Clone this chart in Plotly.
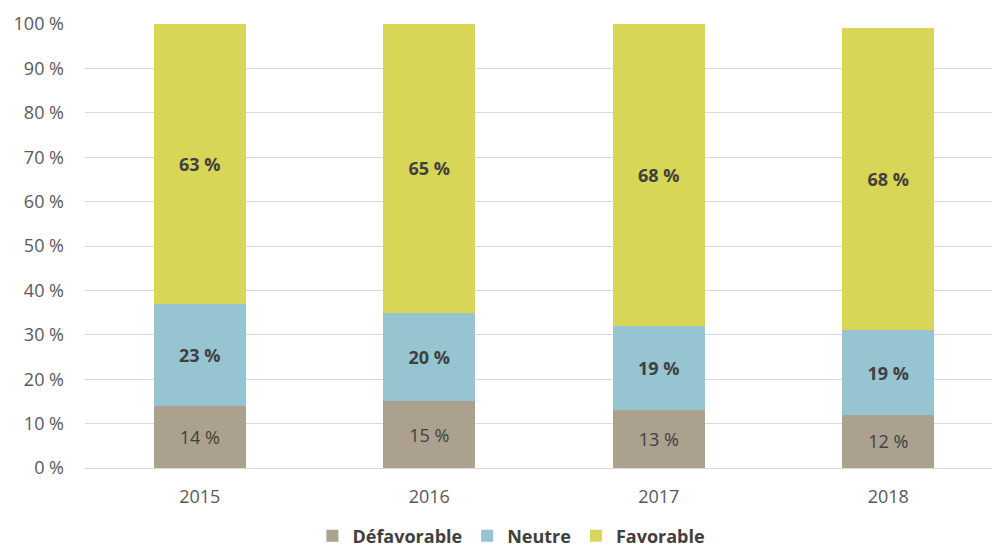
import plotly.graph_objects as go

# survey answers per year, percentages
years = ['2015', '2016', '2017', '2018']
defavorable = [14, 15, 13, 12]
neutre = [23, 20, 19, 19]
favorable = [63, 65, 68, 68]

series = [
    ('Défavorable', defavorable, '#ACA08E', False),
    ('Neutre', neutre, '#96C4D1', True),
    ('Favorable', favorable, '#D8D657', True),
]

fig = go.Figure()
for name, vals, color, bold in series:
    labels = [(f'<b>{v} %</b>' if bold else f'{v} %') for v in vals]
    fig.add_trace(go.Bar(
        x=years, y=vals, name=f'<b>{name}</b>',
        marker=dict(color=color, line=dict(width=0)),
        text=labels, texttemplate='%{text}',
        textposition='inside', insidetextanchor='middle',
        textfont=dict(size=18, color='#404040', family='Open Sans'),
        width=0.4, hoverinfo='skip'))

# page body adds 8px, so margins are trimmed by that much
fig.update_layout(
    barmode='stack',
    width=1000, height=555,
    margin=dict(l=77, r=0, t=16, b=95, autoexpand=False),
    plot_bgcolor='white', paper_bgcolor='white',
    font=dict(family='Open Sans', size=18, color='#595959'),
    uniformtext=dict(mode=False),
    legend=dict(orientation='h', x=0.462, xanchor='center', y=-0.153, yanchor='middle',
                font=dict(size=18, color='#404040'), traceorder='normal',
                itemwidth=30),
)
fig.update_yaxes(range=[0, 100], dtick=10, ticksuffix=' %', showgrid=True,
                 gridcolor='#D9D9D9', gridwidth=1, zeroline=False, showline=False,
                 ticks='', ticklabelstandoff=20)
fig.update_xaxes(range=[-0.5, 3.522], showline=True, linecolor='#D9D9D9', ticks='',
                 showgrid=False, ticklabelstandoff=12)

fig.write_html("out.html")
